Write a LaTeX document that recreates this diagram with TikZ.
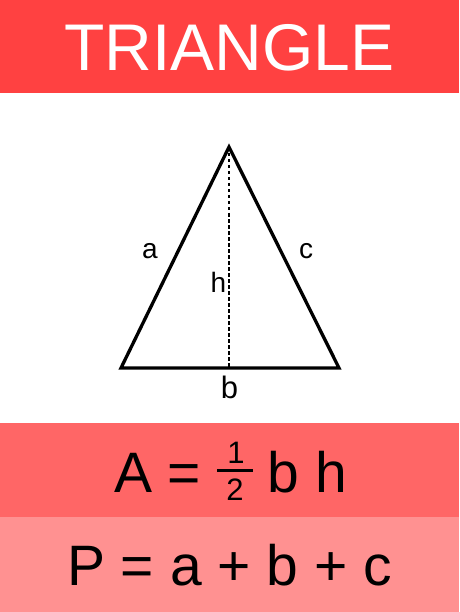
\documentclass[tikz,border=0pt]{standalone}
\usepackage{fontspec}
\setmainfont{Liberation Sans}
\definecolor{titlered}{RGB}{255,65,65}
\definecolor{areared}{RGB}{255,102,102}
\definecolor{perired}{RGB}{255,145,145}
\tikzset{
  band/.style={fill=#1, draw=none},
  lbl/.style={anchor=base, inner sep=0pt, font=\fontsize{28}{28}\selectfont},
  formula/.style={anchor=base, inner sep=0pt, font=\fontsize{57}{57}\selectfont},
  fracnum/.style={anchor=base, inner sep=0pt, font=\fontsize{31}{31}\selectfont},
  side/.style={line width=3.3pt, line join=miter, black},
  height/.style={line width=1.1pt, dash pattern=on 3.5pt off 2.5pt, black}
}
\begin{document}
\begin{tikzpicture}[x=1pt,y=-1pt]
\useasboundingbox (0,0) rectangle (459,612);
\fill[white] (0,0) rectangle (459,612);
% bands
\path[band=titlered] (0,0) rectangle (459,93);
\path[band=areared] (0,423) rectangle (459,517);
\path[band=perired] (0,517) rectangle (459,612);
% title
\node[anchor=base, inner sep=0pt, text=white, font=\fontsize{66}{66}\selectfont] (title) at (229.5,71) {TRIANGLE};
% triangle
\coordinate (T) at (229,147);
\coordinate (L) at (121,368);
\coordinate (R) at (339,368);
\coordinate (F) at (229,368);
\draw[height] (T) -- (F);
\draw[side] (L) -- (T) -- (R) -- cycle;
\node[lbl] (la) at (150,258) {a};
\node[lbl] (lc) at (306,258) {c};
\node[lbl] (lh) at (218.5,292) {h};
\node[lbl, font=\fontsize{31}{31}\selectfont] (lb) at (229.5,398) {b};
% area formula
\node[formula] (fA) at (134,492) {A};
\node[formula] (fEq) at (184,492) {=};
\node[fracnum] (fOne) at (236,463) {1};
\node[fracnum] (fTwo) at (235,500) {2};
\coordinate (barL) at (217,470);
\coordinate (barR) at (253,470);
\draw[line width=3pt] (barL) -- (barR);
\node[formula] (fb) at (283.5,492) {b};
\node[formula] (fh) at (331.5,492) {h};
% perimeter formula
\node[formula] (fP) at (229.5,585) {P = a + b + c};
\end{tikzpicture}
\end{document}
